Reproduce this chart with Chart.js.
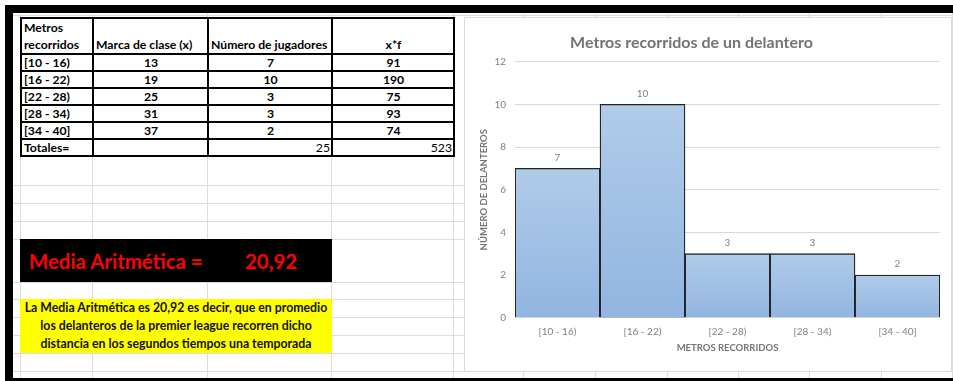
<!DOCTYPE html>
<html>
<head>
<meta charset="utf-8">
<script src="https://cdn.jsdelivr.net/npm/chart.js@4.4.1/dist/chart.umd.min.js"></script>
<style>
  html, body { margin: 0; padding: 0; background: #fff; }
  body { width: 953px; height: 381px; position: relative; overflow: hidden; font-family: Lato, "Noto Sans", sans-serif; }
  .abs { position: absolute; }
  .hl { position: absolute; height: 1px; background: #dcdcdc; }
  .vl { position: absolute; width: 1px; background: #dcdcdc; }
  table.t { position: absolute; left: 20px; top: 17px; border-collapse: collapse; table-layout: fixed; font-size: 12.2px; font-weight: bold; color: #000; background: #fff; }
  table.t td { border: 2px solid #000; padding: 0 1px 0 2px; height: 15px; line-height: 15px; white-space: nowrap; overflow: hidden; }
  table.t tr.h td { height: 33px; vertical-align: bottom; line-height: 17px; }
  table.t td.c { text-align: center; }
  table.t td.r { text-align: right; font-weight: normal; }
  #media { left: 20px; top: 239px; width: 312px; height: 43px; background: #000; color: #ff0000; font-weight: bold; font-size: 20.4px; }
  #media span { position: absolute; top: 10px; }
  #note { left: 20px; top: 299px; width: 312px; height: 54px; background: #ffff00; color: #111; font-weight: bold; font-size: 12.3px; line-height: 18px; text-align: center; white-space: nowrap; }
  #chartBox { left: 464px; top: 17px; width: 488px; height: 355px; box-sizing: border-box; border: 1px solid #d9d9d9; background: #fff; }
  #c { position: absolute; left: 443px; top: 18px; }
</style>
</head>
<body>
<div id="grid"></div>
<div class="abs" style="left:5px;top:5px;width:948px;height:8px;background:#000"></div>
<div class="abs" style="left:5px;top:5px;width:8px;height:376px;background:#000"></div>
<div class="abs" style="left:5px;top:378px;width:948px;height:3px;background:#000"></div>

<table class="t" id="tbl"></table>

<div id="media" class="abs"><span id="mLabel" style="left:9px"></span><span id="mValue" style="left:225px"></span></div>
<div id="note" class="abs">La Media Aritmética es 20,92 es decir, que en promedio<br>los delanteros de la premier league recorren dicho<br>distancia en los segundos tiempos una temporada</div>

<div id="chartBox" class="abs"></div>
<canvas id="c" width="508" height="353"></canvas>

<script>
// ---- data ----
const categories = ['[10 - 16)', '[16 - 22)', '[22 - 28)', '[28 - 34)', '[34 - 40]'];
const classMarks = [13, 19, 25, 31, 37];
const players = [7, 10, 3, 3, 2];
const xTimesF = [91, 190, 75, 93, 74];
const yTicks = [0, 2, 4, 6, 8, 10, 12];
const chartTitle = 'Metros recorridos de un delantero';
const xTitle = 'METROS RECORRIDOS';
const yTitle = 'NÚMERO DE DELANTEROS';
const headers = ['Metros<br>recorridos', 'Marca de clase (x)', 'Número de jugadores', 'x*f'];

// ---- spreadsheet gridlines (layout) ----
const grid = document.getElementById('grid');
const rowLines = [15, 185, 203, 221, 239, 282, 299, 317, 335, 353, 371];
const colLines = [20, 92, 207, 331, 453, 523, 595, 667, 738, 809, 881, 952];
rowLines.forEach(y => { const d = document.createElement('div'); d.className = 'hl'; d.style.left = '13px'; d.style.width = '940px'; d.style.top = y + 'px'; grid.appendChild(d); });
colLines.forEach(x => { const d = document.createElement('div'); d.className = 'vl'; d.style.left = x + 'px'; d.style.top = '13px'; d.style.height = '365px'; grid.appendChild(d); });

// ---- table ----
const totalPlayers = players.reduce((a, b) => a + b, 0);
const totalXF = xTimesF.reduce((a, b) => a + b, 0);
const mean = (totalXF / totalPlayers).toFixed(2).replace('.', ',');
const widths = [72, 115, 124, 122];
let html = '<colgroup>' + widths.map(w => '<col style="width:' + w + 'px">').join('') + '</colgroup>';
html += '<tr class="h">' + headers.map((h, i) => '<td' + (i === 3 ? ' class="c"' : '') + '>' + h + '</td>').join('') + '</tr>';
categories.forEach((c, i) => {
  html += '<tr><td>' + c + '</td><td class="c">' + classMarks[i] + '</td><td class="c">' + players[i] + '</td><td class="c">' + xTimesF[i] + '</td></tr>';
});
html += '<tr><td>Totales=</td><td></td><td class="r">' + totalPlayers + '</td><td class="r">' + totalXF + '</td></tr>';
document.getElementById('tbl').innerHTML = html;
document.getElementById('mLabel').textContent = 'Media Aritmética =';
document.getElementById('mValue').textContent = mean;

// ---- chart ----
const valueLabels = {
  id: 'valueLabels',
  afterDatasetsDraw(chart) {
    const ctx = chart.ctx;
    const meta = chart.getDatasetMeta(0);
    ctx.save();
    ctx.font = '10px Lato';
    ctx.fillStyle = '#7f7f7f';
    ctx.textAlign = 'center';
    ctx.textBaseline = 'middle';
    meta.data.forEach((el, i) => {
      ctx.fillText(String(chart.data.datasets[0].data[i]), el.x, el.y - 11);
    });
    ctx.restore();
  }
};

new Chart(document.getElementById('c'), {
  type: 'bar',
  data: {
    labels: categories,
    datasets: [{
      data: players,
      backgroundColor: (ctx) => {
        const chart = ctx.chart;
        if (!chart.chartArea || ctx.type !== 'data') return '#a3c1e6';
        const yTop = chart.scales.y.getPixelForValue(ctx.raw);
        const yBot = chart.scales.y.getPixelForValue(0);
        const g = chart.ctx.createLinearGradient(0, yTop, 0, yBot);
        g.addColorStop(0, '#b1cbe9');
        g.addColorStop(1, '#91b5e1');
        return g;
      },
      borderColor: '#222222',
      borderWidth: 1.3,
      barPercentage: 1,
      categoryPercentage: 1
    }]
  },
  options: {
    responsive: false,
    animation: false,
    layout: { padding: { left: 0, right: 11, top: 0, bottom: 0 } },
    plugins: {
      legend: { display: false },
      tooltip: { enabled: false },
      title: {
        display: true, text: chartTitle, color: '#737373',
        font: { family: 'Lato', size: 16, weight: 'bold', lineHeight: 1.2 },
        padding: { top: 15.5, bottom: 9.0 }
      }
    },
    scales: {
      x: {
        grid: { display: false, drawTicks: false },
        border: { display: false },
        ticks: { color: '#808080', font: { family: 'Lato', size: 10 }, padding: 8, maxRotation: 0 },
        title: { display: true, text: xTitle, color: '#767676', font: { family: 'Lato', size: 9.5, weight: 'bold', lineHeight: 1.2 }, padding: { top: 0, bottom: 17.3 } },
        afterFit: (s) => { s.height = 53.3; }
      },
      y: {
        min: 0, max: 12,
        afterBuildTicks: (s) => { s.ticks = yTicks.map(v => ({ value: v })); },
        grid: { color: '#d9d9d9', drawTicks: false },
        border: { display: false },
        ticks: { color: '#808080', font: { family: 'Lato', size: 10 }, padding: 9 },
        title: { display: true, text: yTitle, color: '#767676', font: { family: 'Lato', size: 9.5, weight: 'bold', lineHeight: 1.2 }, padding: { top: 35.3, bottom: 0 } },
        afterFit: (s) => { s.width = 72; }
      }
    }
  },
  plugins: [valueLabels]
});
</script>
</body>
</html>
